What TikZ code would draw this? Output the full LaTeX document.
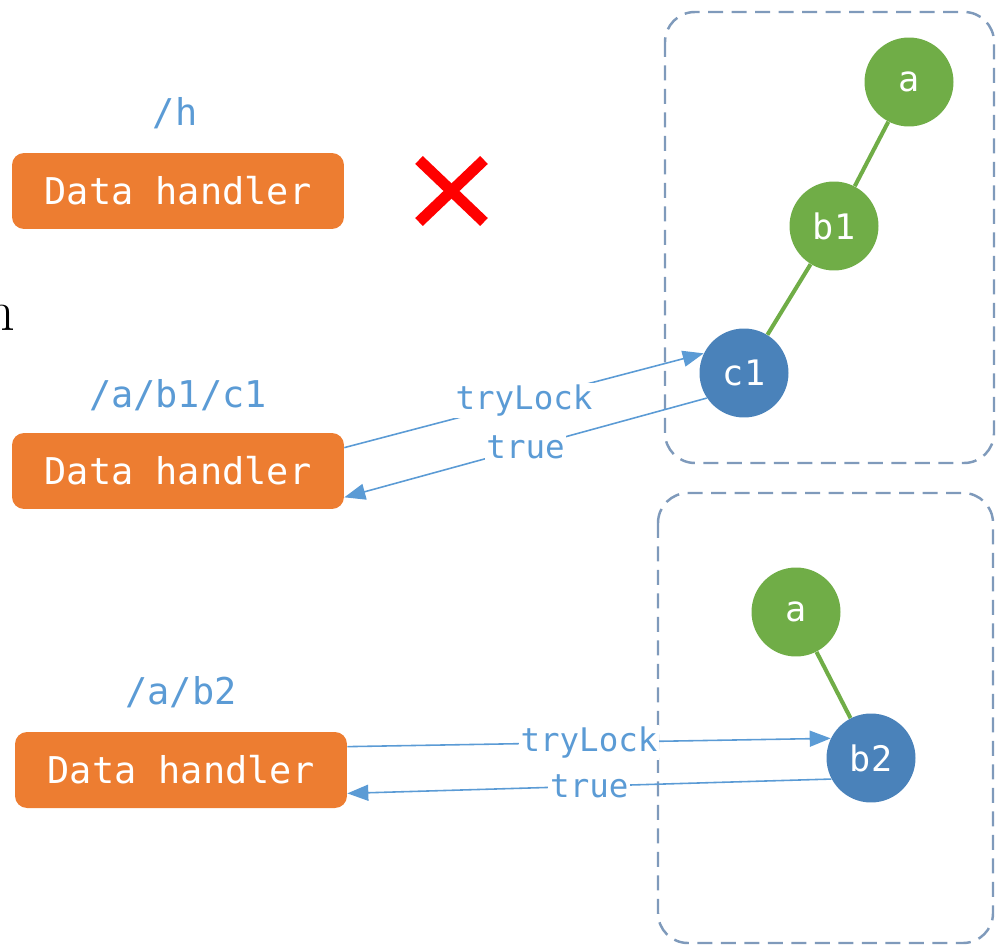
\documentclass[tikz,border=0pt]{standalone}
\usepackage{fontspec}
\setmonofont{DejaVu Sans Mono}
\usetikzlibrary{arrows.meta}
\definecolor{handlerorange}{HTML}{ED7D31}
\definecolor{treegreen}{HTML}{70AD47}
\definecolor{lockblue}{HTML}{4A82BA}
\definecolor{pathblue}{HTML}{5B9BD5}
\definecolor{groupgray}{HTML}{7F9ABB}

\begin{document}
\begin{tikzpicture}[x=0.02cm, y=-0.02cm,
  handler/.style={rectangle, rounded corners=0.24cm, fill=handlerorange, text=white,
    minimum width=6.64cm, minimum height=1.52cm, font=\ttfamily\fontsize{21}{21}\selectfont},
  pathname/.style={text=pathblue, font=\ttfamily\fontsize{21}{21}\selectfont},
  treenode/.style={circle, minimum size=1.78cm, text=white, font=\ttfamily\fontsize{20}{20}\selectfont},
  msg/.style={fill=white, text=pathblue, inner sep=1pt, font=\ttfamily\fontsize{18.5}{18.5}\selectfont},
  call/.style={draw=pathblue, line width=0.9pt, -{Triangle[length=0.42cm, width=0.32cm]}},
  group/.style={draw=groupgray, line width=1.4pt, dash pattern=on 0.3cm off 0.17cm, rounded corners=0.6cm},
  branch/.style={draw=treegreen, line width=2.3pt}]
  \useasboundingbox (0,0) rectangle (996,945);

  \draw[group] (665,12) rectangle (994,463);
  \draw[group] (658,493) rectangle (993,943);

  \node (cut) at (0,318) {\fontsize{33}{33}\selectfont n};

  \node (h) [pathname] at (175,113) {/h};
  \node (dh1) [handler] at (178,191) {Data handler};
  \node (c1path) [pathname] at (178,395) {/a/b1/c1};
  \node (dh2) [handler] at (178,471) {Data handler};
  \node (b2path) [pathname] at (181,692) {/a/b2};
  \node (dh3) [handler] at (181,770) {Data handler};

  \draw[red, line width=0.22cm] (419,160) -- (484,222);
  \draw[red, line width=0.22cm] (484,160) -- (419,222);

  \node (a1) [treenode, fill=treegreen] at (909,82) {a};
  \node (b1) [treenode, fill=treegreen] at (834,226) {b1};
  \node (c1) [treenode, fill=lockblue] at (744,373) {c1};
  \node (a2) [treenode, fill=treegreen] at (796,612) {a};
  \node (b2) [treenode, fill=lockblue] at (871,758) {b2};

  \draw[branch] (a1) -- (b1);
  \draw[branch] (b1) -- (c1);
  \draw[branch] (a2) -- (b2);

  \draw[call] (dh2.8) -- node[msg] {tryLock} (c1.154);
  \draw[call] (c1.214) -- node[msg] {true} (dh2.-9);
  \draw[call] (dh3.8) -- node[msg] {tryLock} (b2.154);
  \draw[call] (b2.208) -- node[msg] {true} (dh3.-8);
\end{tikzpicture}
\end{document}
